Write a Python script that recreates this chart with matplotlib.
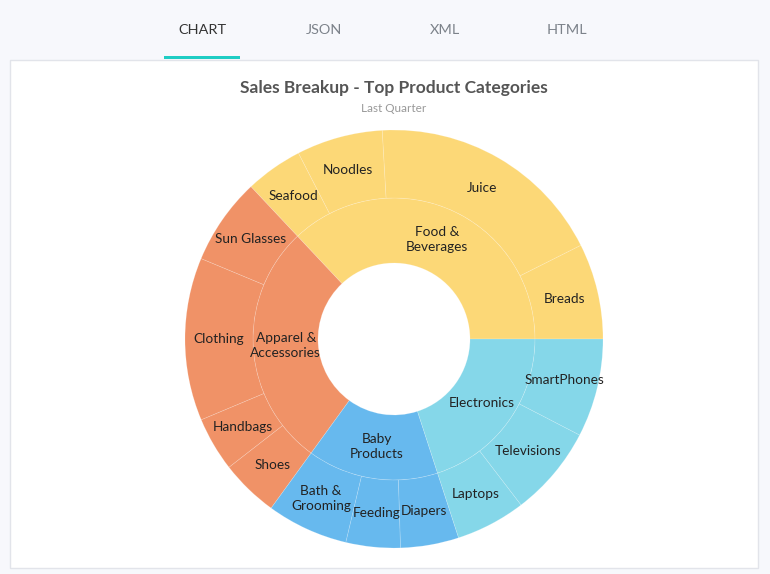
import matplotlib.pyplot as plt
import numpy as np
from matplotlib.patches import Rectangle

plt.rcParams['font.family'] = ['Lato', 'DejaVu Sans']

# data: top categories and their sub categories (values in the same unit)
categories = ["Food &\nBeverages", "Apparel &\nAccessories", "Baby\nProducts", "Electronics"]
category_values = [55.5, 42, 22.5, 30]
category_colors = ["#fcd877", "#f09267", "#67b9ee", "#85d7e9"]

sub_labels = [
    ["Breads", "Juice", "Noodles", "Seafood"],
    ["Sun Glasses", "Clothing", "Handbags", "Shoes"],
    ["Bath &\nGrooming", "Feeding", "Diapers"],
    ["Laptops", "Televisions", "SmartPhones"],
]
sub_values = [
    [11.1, 27.75, 9.99, 6.66],
    [10.08, 18.9, 6.3, 6.72],
    [9.45, 6.3, 6.75],
    [8.1, 10.5, 11.4],
]

tabs = ["CHART", "JSON", "XML", "HTML"]
title = "Sales Breakup - Top Product Categories"
subtitle = "Last Quarter"

W, H = 770, 574
fig = plt.figure(figsize=(W / 100, H / 100), dpi=100)
fig.patch.set_facecolor("#f7f8fc")

# page background in pixel coords
bg = fig.add_axes([0, 0, 1, 1])
bg.set_xlim(0, W)
bg.set_ylim(H, 0)
bg.axis("off")
bg.add_patch(Rectangle((9.5, 59.5), 748, 508, facecolor="white", edgecolor="#e2e4ea", lw=1))
bg.add_patch(Rectangle((164, 56), 76, 2.5, facecolor="#1fcdc4", edgecolor="none"))
for i, t in enumerate(tabs):
    bg.text(202 + i * 121.7, 30, t, ha="center", va="center", fontsize=10.4,
            color="#333333" if i == 0 else "#7c828a")
bg.text(394, 88, title, ha="center", va="center", fontsize=12.5,
        fontweight="bold", color="#555555")
bg.text(394, 108, subtitle, ha="center", va="center", fontsize=8.5, color="#999999")

# pie axes: center (394, 339) px, outer radius 209 px
cx, cy, R = 394, 339, 209
ax = fig.add_axes([(cx - R) / W, (H - cy - R) / H, 2 * R / W, 2 * R / H])

r_hole, r_mid = 76 / R, 141 / R
edge = dict(edgecolor=(1, 1, 1, 0.22), linewidth=0.5)

inner, _ = ax.pie(category_values, radius=r_mid, colors=category_colors,
                  startangle=0, wedgeprops=dict(width=r_mid - r_hole, **edge))

flat_vals = [v for grp in sub_values for v in grp]
flat_labels = [l for grp in sub_labels for l in grp]
flat_colors = [category_colors[i] for i, grp in enumerate(sub_values) for _ in grp]
outer, _ = ax.pie(flat_vals, radius=1, colors=flat_colors,
                  startangle=0, wedgeprops=dict(width=1 - r_mid, **edge))

# pie() resets the limits, so set them afterwards
ax.set_xlim(-1, 1)
ax.set_ylim(-1, 1)
ax.set_aspect("equal")
ax.axis("off")


def put_labels(wedges, labels, r):
    for w, lab in zip(wedges, labels):
        a = np.deg2rad((w.theta1 + w.theta2) / 2)
        ax.text(r * np.cos(a), r * np.sin(a), lab, ha="center", va="center",
                fontsize=9.8, color="#222222", linespacing=1.3)


put_labels(inner, categories, (r_hole + r_mid) / 2)
put_labels(outer, flat_labels, (r_mid + 1) / 2)

fig.savefig("out.png", dpi=100, facecolor=fig.get_facecolor())
